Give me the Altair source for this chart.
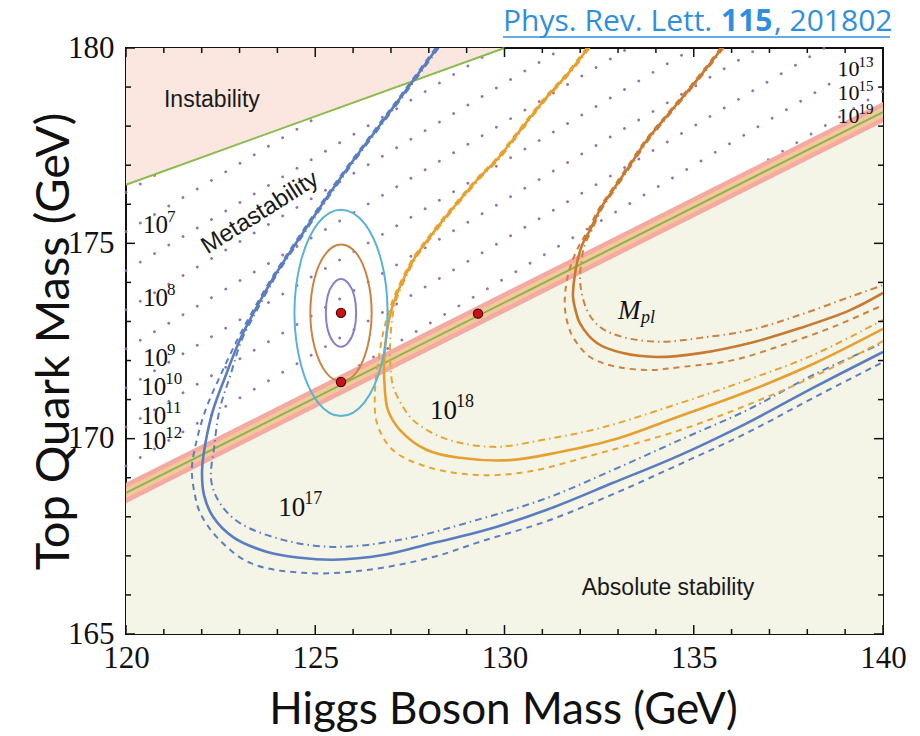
import altair as alt
import pandas as pd

W, H = 757, 586

# ---------------- axis ticks ----------------
X_MAJOR = [120, 125, 130, 135, 140]
X_MINOR = [121, 122, 123, 124, 126, 127, 128, 129, 131, 132, 133, 134, 136, 137, 138, 139]
Y_MAJOR = [165, 170, 175, 180]
Y_MINOR = [166, 167, 168, 169, 171, 172, 173, 174, 176, 177, 178, 179]

# ---------------- regions ----------------
INSTAB_X = [120.0, 130.0]
INSTAB_Y = [176.5, 180.0]
BAND_X = [120.0, 140.0]
BAND_CENTER = [168.61, 178.36]
BAND_LO = [168.35, 178.10]
BAND_HI = [168.87, 178.62]
BAND_IN_LO = [168.48, 178.23]
BAND_IN_HI = [168.74, 178.49]
FLOOR_Y = [165.0, 165.0]

# dotted lifetime lines (start / end points)
DOT_X1 = [120, 120, 120, 120, 120, 120, 120, 120, 126.16, 136.97]
DOT_Y1 = [176.3, 175.3, 174.3, 173.3, 172.3, 171.3, 170.3, 169.3, 171.87, 177.14]
DOT_X2 = [120.87, 125.22, 129.57, 131.55, 133.28, 135.0, 136.72, 138.45, 140.0, 140.0]
DOT_Y2 = [176.80, 178.33, 179.85, 180.0, 180.0, 180.0, 180.0, 180.0, 179.9, 178.9]

# ---------------- curves ----------------
BLUE_SOLID_X = [128.22, 127.50, 126.71, 125.92, 125.26, 124.60, 123.94, 123.41, 123.01, 122.64, 122.30, 122.09,
                122.01, 122.06, 122.30, 122.83, 123.73, 124.60, 125.47, 126.79, 128.11, 129.43, 131.12, 132.87,
                134.64, 136.41, 138.15, 140.0]
BLUE_SOLID_Y = [180.0, 179.05, 178.03, 177.01, 176.11, 175.16, 174.19, 173.29, 172.53, 171.63, 170.73, 169.84,
                169.20, 168.56, 168.00, 167.48, 167.10, 166.95, 166.90, 167.02, 167.33, 167.64, 168.18, 168.87,
                169.58, 170.40, 171.30, 172.22]
BLUE_DASH_X = [128.18, 127.46, 126.67, 125.88, 125.22, 124.56, 123.90, 123.36, 122.94, 122.50, 122.10, 121.84,
               121.74, 121.82, 121.96, 122.40, 123.28, 124.78, 126.37, 128.11, 129.35, 131.12, 132.87, 134.64,
               136.41, 138.15, 140.0]
BLUE_DASH_Y = [180.0, 179.05, 178.03, 177.01, 176.11, 175.16, 174.19, 173.29, 172.53, 171.63, 170.73, 169.84,
               169.20, 168.56, 168.10, 167.48, 166.82, 166.56, 166.64, 166.97, 167.36, 167.89, 168.58, 169.35,
               170.15, 171.04, 171.96]
BLUE_DOT_X = [128.26, 127.54, 126.75, 125.96, 125.30, 124.64, 123.98, 123.46, 123.06, 122.76, 122.47, 122.33,
              122.25, 122.48, 123.01, 124.15, 125.47, 127.24, 129.35, 131.12, 132.87, 134.64, 136.41, 138.15, 140.0]
BLUE_DOT_Y = [180.0, 179.05, 178.03, 177.01, 176.11, 175.16, 174.19, 173.29, 172.53, 171.63, 170.73, 169.79,
              168.94, 168.35, 167.84, 167.41, 167.23, 167.41, 167.94, 168.48, 169.20, 169.97, 170.73, 171.63, 172.45]

ORANGE_SOLID_X = [132.21, 131.65, 131.12, 130.67, 130.22, 129.80, 129.35, 128.82, 128.38, 128.03, 127.64, 127.32,
                  127.05, 126.90, 126.82, 126.84, 126.92, 127.24, 127.95, 128.82, 130.15, 131.47, 132.87, 134.64,
                  136.41, 138.15, 140.0]
ORANGE_SOLID_Y = [180.0, 179.31, 178.75, 178.21, 177.65, 177.14, 176.70, 176.11, 175.60, 175.16, 174.65, 174.06,
                  173.42, 172.78, 172.01, 171.25, 170.73, 170.22, 169.71, 169.51, 169.45, 169.66, 169.97, 170.58,
                  171.20, 171.91, 172.81]
ORANGE_DASH_X = [132.17, 131.61, 131.08, 130.63, 130.18, 129.76, 129.31, 128.78, 128.34, 127.99, 127.60, 127.28,
                 127.00, 126.81, 126.67, 126.58, 126.63, 127.05, 127.95, 129.27, 130.59, 132.52, 134.64, 136.41,
                 138.15, 140.0]
ORANGE_DASH_Y = [180.0, 179.31, 178.75, 178.21, 177.65, 177.14, 176.70, 176.11, 175.60, 175.16, 174.65, 174.06,
                 173.42, 172.78, 172.01, 171.25, 170.40, 169.71, 169.28, 169.07, 169.15, 169.63, 170.22, 170.86,
                 171.58, 172.50]
ORANGE_DOT_X = [132.25, 131.69, 131.16, 130.71, 130.26, 129.84, 129.39, 128.86, 128.42, 128.07, 127.68, 127.36,
                127.10, 127.00, 126.98, 127.05, 127.29, 127.58, 128.38, 129.70, 131.02, 132.52, 134.64, 136.41,
                138.15, 140.0]
ORANGE_DOT_Y = [180.0, 179.31, 178.75, 178.21, 177.65, 177.14, 176.70, 176.11, 175.60, 175.16, 174.65, 174.06,
                173.42, 172.78, 172.01, 171.37, 170.86, 170.48, 170.02, 169.79, 169.97, 170.27, 170.91, 171.50,
                172.14, 173.04]

BROWN_SOLID_X = [135.75, 135.30, 134.82, 134.29, 133.77, 133.32, 132.87, 132.52, 132.26, 132.05, 131.92, 131.84,
                 131.81, 131.89, 131.99, 132.44, 133.13, 134.03, 135.17, 136.49, 137.81, 139.13, 140.0]
BROWN_SOLID_Y = [180.0, 179.44, 178.87, 178.26, 177.65, 177.01, 176.37, 175.86, 175.34, 174.96, 174.52, 174.06,
                 173.63, 173.24, 172.96, 172.45, 172.19, 172.09, 172.19, 172.45, 172.83, 173.29, 173.73]
BROWN_DASH_X = [135.71, 135.26, 134.78, 134.25, 133.73, 133.28, 132.83, 132.48, 132.21, 131.98, 131.78, 131.65,
                131.60, 131.60, 131.68, 131.81, 132.26, 132.97, 133.84, 134.72, 136.04, 137.36, 138.68, 140.0]
BROWN_DASH_Y = [180.0, 179.44, 178.87, 178.26, 177.65, 177.01, 176.37, 175.86, 175.34, 174.96, 174.52, 174.06,
                173.68, 173.29, 172.91, 172.60, 172.09, 171.84, 171.76, 171.84, 172.01, 172.40, 172.86, 173.42]
BROWN_DOT_X = [135.79, 135.34, 134.86, 134.33, 133.81, 133.36, 132.91, 132.56, 132.31, 132.12, 132.03, 132.00,
               132.18, 132.52, 133.13, 134.11, 135.17, 136.49, 137.81, 139.13, 140.0]
BROWN_DOT_Y = [180.0, 179.44, 178.87, 178.26, 177.65, 177.01, 176.37, 175.86, 175.34, 174.96, 174.52, 173.99,
               173.29, 172.86, 172.60, 172.48, 172.58, 172.78, 173.17, 173.63, 173.93]

# ---------------- confidence ellipses ----------------
ELL_PURPLE_X = [126.08, 126.03, 125.88, 125.68, 125.48, 125.33, 125.28, 125.33, 125.48, 125.68, 125.88, 126.03]
ELL_PURPLE_Y = [173.22, 173.66, 173.97, 174.09, 173.97, 173.66, 173.22, 172.79, 172.47, 172.35, 172.47, 172.79]
ELL_ORANGE_X = [126.49, 126.38, 126.09, 125.68, 125.28, 124.98, 124.87, 124.98, 125.28, 125.68, 126.09, 126.38]
ELL_ORANGE_Y = [173.22, 174.10, 174.74, 174.97, 174.74, 174.10, 173.22, 172.35, 171.70, 171.47, 171.70, 172.35]
ELL_BLUE_X = [126.91, 126.75, 126.30, 125.68, 125.07, 124.62, 124.45, 124.62, 125.07, 125.68, 126.30, 126.75]
ELL_BLUE_Y = [173.22, 174.54, 175.51, 175.86, 175.51, 174.54, 173.22, 171.90, 170.93, 170.58, 170.93, 171.90]

PTS_X = [125.68, 125.68, 129.30]
PTS_Y = [173.22, 171.45, 173.20]

# ---------------- labels ----------------
LEFT_LAB_X = [120.45, 120.45, 120.45, 120.4, 120.4, 120.4]
LEFT_LAB_Y = [175.47, 173.60, 172.07, 171.32, 170.58, 169.94]
LEFT_LAB_EXP = ["7", "8", "9", "10", "11", "12"]
RIGHT_LAB_X = [138.8, 138.8, 138.8]
RIGHT_LAB_Y = [179.45, 178.86, 178.26]
RIGHT_LAB_EXP = ["13", "15", "19"]
MID_LAB_X = [128.03, 124.02]
MID_LAB_Y = [170.71, 168.23]
MID_LAB_EXP = ["18", "17"]

# ---------------- encodings ----------------
xscale = alt.Scale(domain=[120, 140], nice=False, zero=False)
yscale = alt.Scale(domain=[165, 180], nice=False, zero=False)
xaxis = alt.Axis(values=X_MAJOR, format="d", title="Higgs Boson Mass (GeV)", grid=False, ticks=False,
                 domain=False, labelFont="Liberation Serif", labelFontSize=31, labelColor="#111",
                 labelPadding=9, labelFlush=False, labelOverlap=False, titleFont="Lato",
                 titleFontSize=44, titleFontWeight="normal", titleColor="#111", titleX=377, titleY=76,
                 titleBaseline="middle", titleAlign="center")
yaxis = alt.Axis(values=Y_MAJOR, format="d", title="Top Quark Mass (GeV)", grid=False, ticks=False,
                 domain=False, labelFont="Liberation Serif", labelFontSize=31, labelColor="#111",
                 labelPadding=12, labelFlush=False, labelOverlap=False, titleFont="Lato",
                 titleFontSize=47, titleFontWeight="normal", titleColor="#111", titleX=-72, titleY=293,
                 titleAngle=270, titleBaseline="middle", titleAlign="center")


def X(f):
    return alt.X(f + ":Q", scale=xscale, axis=xaxis)


def Y(f):
    return alt.Y(f + ":Q", scale=yscale, axis=yaxis)


layers = []

# regions
stab = pd.DataFrame({"x": BAND_X, "y": FLOOR_Y, "y2": BAND_CENTER})
layers.append(alt.Chart(stab).mark_area(color="#f4f4e7").encode(x=X("x"), y=Y("y"), y2="y2"))
inst = pd.DataFrame({"x": INSTAB_X, "y": INSTAB_Y, "y2": [180.0, 180.0]})
layers.append(alt.Chart(inst).mark_area(color="#fbe6e0").encode(x=X("x"), y=Y("y"), y2="y2"))

# dotted lines
dots = pd.DataFrame({"x": DOT_X1, "y": DOT_Y1, "x2": DOT_X2, "y2": DOT_Y2})
layers.append(alt.Chart(dots).mark_rule(color="#8a64a6", strokeWidth=2.8, strokeCap="round",
                                        strokeDash=[0.1, 16.5], opacity=0.9)
              .encode(x=X("x"), y=Y("y"), x2="x2", y2="y2"))

# stability band
band = pd.DataFrame({"x": BAND_X, "lo": BAND_LO, "hi": BAND_HI, "ilo": BAND_IN_LO, "ihi": BAND_IN_HI,
                     "c": BAND_CENTER})
layers.append(alt.Chart(band).mark_area(color="#f3aaa1").encode(x=X("x"), y=Y("lo"), y2="hi"))
layers.append(alt.Chart(band).mark_area(color="#f6c69c").encode(x=X("x"), y=Y("ilo"), y2="ihi"))
layers.append(alt.Chart(band).mark_line(color="#86b74c", strokeWidth=2).encode(x=X("x"), y=Y("c")))

# instability green line
layers.append(alt.Chart(pd.DataFrame({"x": INSTAB_X, "y": INSTAB_Y}))
              .mark_line(color="#8cbc4e", strokeWidth=2).encode(x=X("x"), y=Y("y")))

DASH = [6, 5]
DASHDOT = [7, 4, 1.5, 4]
curves = [
    (BLUE_DASH_X, BLUE_DASH_Y, "#5d7fc0", DASH, 2.0),
    (BLUE_DOT_X, BLUE_DOT_Y, "#5d7fc0", DASHDOT, 2.0),
    (BLUE_SOLID_X, BLUE_SOLID_Y, "#5a7dbf", None, 2.6),
    (ORANGE_DASH_X, ORANGE_DASH_Y, "#e6a634", DASH, 2.0),
    (ORANGE_DOT_X, ORANGE_DOT_Y, "#e6a634", DASHDOT, 2.0),
    (ORANGE_SOLID_X, ORANGE_SOLID_Y, "#e6a030", None, 2.6),
    (BROWN_DASH_X, BROWN_DASH_Y, "#cd8240", DASH, 2.0),
    (BROWN_DOT_X, BROWN_DOT_Y, "#cd8240", DASHDOT, 2.0),
    (BROWN_SOLID_X, BROWN_SOLID_Y, "#c87a30", None, 2.6),
]
for xs, ys, col, dash, w in curves:
    df = pd.DataFrame({"x": xs, "y": ys, "i": list(range(len(xs)))})
    kw = dict(color=col, strokeWidth=w, interpolate="catmull-rom", clip=True)
    if dash is not None:
        kw["strokeDash"] = dash
    layers.append(alt.Chart(df).mark_line(**kw).encode(x=X("x"), y=Y("y"), order="i:Q"))

ellipses = [
    (ELL_BLUE_X, ELL_BLUE_Y, "#5ab2d4"),
    (ELL_ORANGE_X, ELL_ORANGE_Y, "#c98442"),
    (ELL_PURPLE_X, ELL_PURPLE_Y, "#8d7fc6"),
]
for xs, ys, col in ellipses:
    df = pd.DataFrame({"x": xs, "y": ys, "i": list(range(len(xs)))})
    layers.append(alt.Chart(df).mark_line(color=col, strokeWidth=2, interpolate="cardinal-closed")
                  .encode(x=X("x"), y=Y("y"), order="i:Q"))

# central values
layers.append(alt.Chart(pd.DataFrame({"x": PTS_X, "y": PTS_Y}))
              .mark_circle(size=85, color="#c81216", stroke="#4a0000", strokeWidth=1.2, opacity=1)
              .encode(x=X("x"), y=Y("y")))


# scale labels 10^n
def power_labels(xs, ys, exps, size, esize, dx, dy):
    df = pd.DataFrame({"x": xs, "y": ys, "b": ["10"] * len(xs), "e": exps})
    base = alt.Chart(df).mark_text(align="left", baseline="middle", font="Liberation Serif",
                                   fontSize=size, color="#111").encode(x=X("x"), y=Y("y"), text="b:N")
    ex = alt.Chart(df).mark_text(align="left", baseline="middle", font="Liberation Serif",
                                 fontSize=esize, color="#111", dx=dx, dy=dy).encode(x=X("x"), y=Y("y"), text="e:N")
    return [base, ex]


layers += power_labels(LEFT_LAB_X, LEFT_LAB_Y, LEFT_LAB_EXP, 25, 17, 24, -8)
layers += power_labels(RIGHT_LAB_X, RIGHT_LAB_Y, RIGHT_LAB_EXP, 22, 15, 21, -7)
layers += power_labels(MID_LAB_X, MID_LAB_Y, MID_LAB_EXP, 27, 18, 26, -9)

# M_pl
mpl = pd.DataFrame({"x": [133.0], "y": [173.27], "m": ["M"], "s": ["pl"]})
layers.append(alt.Chart(mpl).mark_text(align="left", baseline="middle", font="Liberation Serif",
                                       fontStyle="italic", fontSize=27, color="#111")
              .encode(x=X("x"), y=Y("y"), text="m:N"))
layers.append(alt.Chart(mpl).mark_text(align="left", baseline="middle", font="Liberation Serif",
                                       fontStyle="italic", fontSize=18, color="#111", dx=23, dy=7)
              .encode(x=X("x"), y=Y("y"), text="s:N"))

# region names
REGION_TEXT = ["Instability", "Absolute stability"]
REGION_X = [122.27, 134.32]
REGION_Y = [178.67, 166.18]
layers.append(alt.Chart(pd.DataFrame({"x": REGION_X, "y": REGION_Y, "t": REGION_TEXT}))
              .mark_text(align="center", baseline="middle", font="Liberation Sans", fontSize=23,
                         color="#1a1a1a").encode(x=X("x"), y=Y("y"), text="t:N"))
layers.append(alt.Chart(pd.DataFrame({"x": [123.54], "y": [175.78], "t": ["Metastability"]}))
              .mark_text(align="center", baseline="middle", font="Liberation Sans", fontSize=24,
                         angle=327.6, color="#1a1a1a").encode(x=X("x"), y=Y("y"), text="t:N"))


# inward tick marks on all four sides
def xticks(vals, length):
    df = pd.DataFrame({"t": vals})
    bot = alt.Chart(df).mark_rule(color="#111", strokeWidth=1.5).encode(
        x=X("t"), y=alt.value(H), y2=alt.value(H - length))
    top = alt.Chart(df).mark_rule(color="#111", strokeWidth=1.5).encode(
        x=X("t"), y=alt.value(0), y2=alt.value(length))
    return [bot, top]


def yticks(vals, length):
    df = pd.DataFrame({"t": vals})
    left = alt.Chart(df).mark_rule(color="#111", strokeWidth=1.5).encode(
        y=Y("t"), x=alt.value(0), x2=alt.value(length))
    right = alt.Chart(df).mark_rule(color="#111", strokeWidth=1.5).encode(
        y=Y("t"), x=alt.value(W), x2=alt.value(W - length))
    return [left, right]


layers += xticks(X_MAJOR, 9) + xticks(X_MINOR, 5) + yticks(Y_MAJOR, 9) + yticks(Y_MINOR, 5)

# reference link above the plot
one = pd.DataFrame({"a": [0]})
LINK_COLOR = "#2f8fdc"
layers.append(alt.Chart(one).mark_text(align="left", baseline="alphabetic", font="Open Sans", fontSize=30,
                                       color=LINK_COLOR)
              .encode(x=alt.value(377), y=alt.value(-17), text=alt.value("Phys. Rev. Lett.")))
layers.append(alt.Chart(one).mark_text(align="left", baseline="alphabetic", font="Open Sans", fontSize=30,
                                       fontWeight="bold", color=LINK_COLOR)
              .encode(x=alt.value(595), y=alt.value(-17), text=alt.value("115")))
layers.append(alt.Chart(one).mark_text(align="left", baseline="alphabetic", font="Open Sans", fontSize=30,
                                       color=LINK_COLOR)
              .encode(x=alt.value(648), y=alt.value(-17), text=alt.value(", 201802")))
layers.append(alt.Chart(one).mark_rule(color=LINK_COLOR, strokeWidth=1.5)
              .encode(x=alt.value(377), x2=alt.value(764), y=alt.value(-11)))

chart = alt.layer(*layers).properties(
    width=W, height=H,
    autosize=alt.AutoSizeParams(type="none"),
    padding={"left": 126, "top": 48, "right": 37, "bottom": 102},
    background="white",
).configure_view(stroke="#111", strokeWidth=2)

chart.save("out.html", embed_options={"renderer": "svg", "actions": False})
